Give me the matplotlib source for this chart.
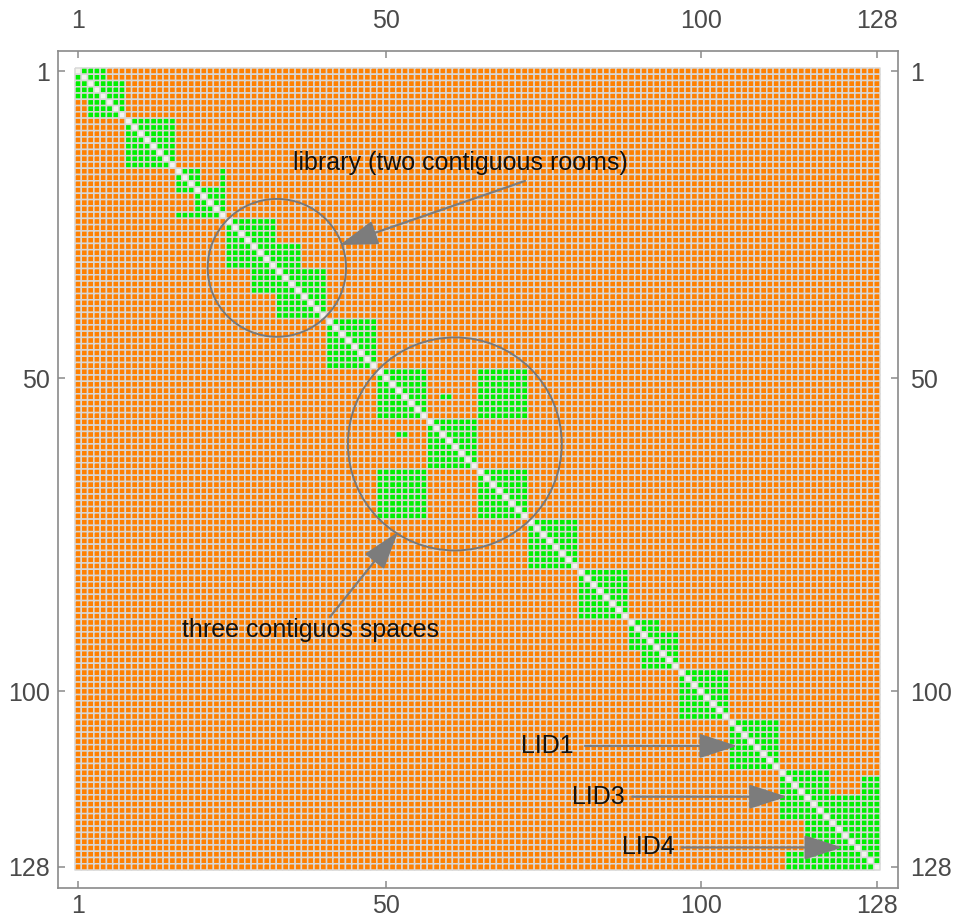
import numpy as np
import matplotlib
matplotlib.use("Agg")
import matplotlib.pyplot as plt
from matplotlib.colors import ListedColormap
from matplotlib.patches import Circle

plt.rcParams['font.family'] = ['Liberation Sans', 'DejaVu Sans']

N = 128
tick_values = [1, 50, 100, 128]

# rooms along the diagonal (1-based, inclusive)
rooms = [(1, 8), (9, 16), (17, 24), (25, 32), (33, 40), (41, 48),
         (49, 56), (57, 64), (65, 72), (73, 80), (81, 88), (89, 96),
         (97, 104), (105, 112), (113, 120), (121, 128)]

# links between spaces: (row_start, row_end, col_start, col_end), mirrored
links = [(29, 32, 33, 36),
         (49, 56, 65, 72),
         (117, 120, 121, 128),
         (114, 116, 126, 128)]

# parts of a room bounding box that are not linked, mirrored
gaps = [(1, 2, 6, 8),
        (17, 19, 21, 23),
        (89, 90, 94, 96)]

# isolated single links
single_cells = [(53, 59), (53, 60), (59, 52), (59, 53)]

M = np.zeros((N, N), dtype=int)
for a, b in rooms:
    M[a - 1:b, a - 1:b] = 1
for r0, r1, c0, c1 in links:
    M[r0 - 1:r1, c0 - 1:c1] = 1
    M[c0 - 1:c1, r0 - 1:r1] = 1
for r0, r1, c0, c1 in gaps:
    M[r0 - 1:r1, c0 - 1:c1] = 0
    M[c0 - 1:c1, r0 - 1:r1] = 0
for r, c in single_cells:
    M[r - 1, c - 1] = 1
np.fill_diagonal(M, 2)

cmap = ListedColormap(['#ff8000', '#00f000', '#f4f4ee'])

fig = plt.figure(figsize=(9.55, 9.19), dpi=100)
ax = fig.add_axes([58 / 955, 1 - 888 / 919, 840 / 955, 837 / 919])

edges = np.arange(0.5, N + 1.5, 1.0)
mesh = ax.pcolormesh(edges, edges, M, cmap=cmap, vmin=-0.5, vmax=2.5,
                     edgecolors='#d8d8d8', linewidth=1.1, snap=False,
                     antialiased=True)

ax.set_xlim(-2.2, 131.36)
ax.set_ylim(131.37, -2.21)

frame_color = '#8a8a8a'
for s in ax.spines.values():
    s.set_color(frame_color)
    s.set_linewidth(1.2)

label_color = '#4a4a4a'
ax.set_xticks(tick_values)
ax.set_yticks(tick_values)
ax.tick_params(axis='both', direction='in', length=5, width=1.1,
               color=frame_color, labelsize=18, labelcolor=label_color,
               top=True, right=True)
ax.tick_params(axis='x', pad=4)
ax.tick_params(axis='y', pad=6)

top = ax.secondary_xaxis('top')
top.set_xticks(tick_values)
top.tick_params(direction='in', length=0, labelsize=18,
                labelcolor=label_color, pad=13)
top.spines['top'].set_visible(False)

right = ax.secondary_yaxis('right')
right.set_yticks(tick_values)
right.tick_params(direction='in', length=0, labelsize=18,
                  labelcolor=label_color, pad=9)
right.spines['right'].set_visible(False)

# outlines around the library and the three contiguous spaces
ring = '#787878'
ax.add_patch(Circle((32.6, 32.4), 11.0, fill=False, edgecolor=ring, lw=1.4))
ax.add_patch(Circle((60.9, 60.5), 17.0, fill=False, edgecolor=ring, lw=1.4))

arrow_kw = dict(arrowstyle='-|>,head_length=1.7,head_width=0.55',
                color='#7c7c7c', lw=1.6, mutation_scale=14,
                shrinkA=0, shrinkB=0)

text_kw = dict(fontsize=18, color='#111111', va='center', ha='left')

ax.text(35.2, 15.7, 'library (two contiguous rooms)', **text_kw)
ax.annotate('', xy=(42.6, 28.75), xytext=(72.05, 18.53), arrowprops=arrow_kw)

ax.text(17.5, 90.2, 'three contiguos spaces', **text_kw)
ax.annotate('', xy=(51.86, 74.55), xytext=(41.05, 88.1), arrowprops=arrow_kw)

lids = [('LID1', 71.4, 108.7, 81.6, 105.8),
        ('LID3', 79.5, 116.8, 89.1, 113.7),
        ('LID4', 87.5, 124.9, 97.0, 122.5)]
for name, tx, ty, x0, x1 in lids:
    ax.text(tx, ty, name, **text_kw)
    ax.annotate('', xy=(x1, ty), xytext=(x0, ty), arrowprops=arrow_kw)

fig.savefig('out.png', dpi=100)
